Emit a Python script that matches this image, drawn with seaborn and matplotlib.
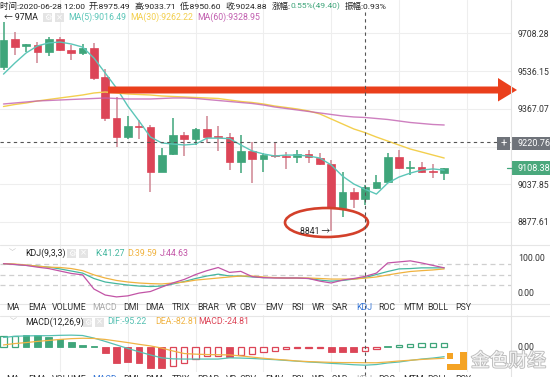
import numpy as np
import pandas as pd
import matplotlib
matplotlib.use("Agg")
import matplotlib.pyplot as plt
import matplotlib.patheffects as pe
import seaborn as sns
from matplotlib.patches import Rectangle, Ellipse, Polygon
from matplotlib.lines import Line2D
from matplotlib.ticker import NullLocator

# ---------------- data ----------------
idx = list(range(40))
opens = [9555, 9683, 9651, 9655, 9623, 9683, 9633, 9619, 9642, 9510,
         9327, 9243, 9291, 9287, 9091, 9169, 9252, 9234, 9278, 9245,
         9243, 9134, 9182, 9147, 9160, 9158, 9156, 9169, 9151, 9125,
         8937, 9005, 8975.49, 9022, 9048, 9156, 9108, 9112, 9092, 9087]
highs = [9761, 9715, 9660, 9669, 9692, 9692, 9655, 9660, 9664, 9546,
         9420, 9336, 9318, 9296, 9195, 9327, 9265, 9283, 9336, 9291,
         9261, 9252, 9221, 9173, 9217, 9177, 9186, 9186, 9173, 9143,
         9091, 9022, 9033.71, 9078, 9173, 9186, 9138, 9134, 9125, 9108.38]
lows = [9542, 9610, 9623, 9573, 9605, 9628, 9587, 9610, 9496, 9313,
        9199, 9234, 9234, 9005, 9089, 9164, 9160, 9208, 9217, 9182,
        9099, 9087, 9043, 9091, 9151, 9104, 9130, 9130, 9121, 8841,
        8899, 8937, 8950.60, 9018, 9043, 9104, 9078, 9087, 9065, 9056]
closes = [9678, 9646, 9658, 9623, 9683, 9633, 9619, 9642, 9505, 9327,
          9243, 9291, 9287, 9091, 9164, 9252, 9234, 9278, 9243, 9241,
          9134, 9182, 9147, 9164, 9158, 9156, 9169, 9156, 9125, 8937,
          9005, 8975.48, 9024.88, 9048, 9156, 9108, 9112, 9091, 9090, 9108.38]

ma5 = [9523, 9573, 9619, 9651, 9665, 9669, 9660, 9646, 9596, 9528,
       9460, 9380, 9313, 9243, 9217, 9212, 9208, 9212, 9238, 9238,
       9236, 9208, 9182, 9169, 9160, 9164, 9164, 9160, 9151, 9121,
       9073, 9039, 9016.49, 8996, 9043, 9069, 9086, 9099, 9104, 9099]
ma30 = [9377.7, 9386.7, 9393.3, 9402.3, 9409.0, 9415.7, 9422.3, 9429.1, 9438.0, 9442.5,
        9438.0, 9433.5, 9431.3, 9429.1, 9424.6, 9422.3, 9420.1, 9417.8, 9415.7, 9413.4,
        9406.7, 9400.0, 9395.5, 9388.9, 9380.0, 9373.4, 9366.7, 9357.8, 9344.5, 9322.4,
        9300.3, 9278.3, 9262.22, 9242.8, 9225.3, 9207.8, 9190.3, 9177.3, 9164.2, 9151.2]
ma60 = [9388.9, 9393.3, 9397.8, 9402.3, 9404.5, 9406.7, 9409.0, 9411.2, 9413.4, 9415.7,
        9413.4, 9411.2, 9411.2, 9411.2, 9413.4, 9415.7, 9415.7, 9413.4, 9409.0, 9404.5,
        9400.0, 9395.5, 9391.1, 9384.4, 9375.5, 9368.9, 9362.2, 9355.6, 9349.0, 9342.3,
        9335.7, 9331.2, 9328.95, 9324.5, 9320.1, 9313.5, 9306.8, 9302.4, 9298.0, 9295.8]

k_vals = [81, 78.6, 76, 74, 71, 66, 60, 54, 38.6, 28.6, 24, 20, 17, 15.7, 17, 23, 30, 38.6, 45.7, 51,
          45.7, 45.7, 43, 41, 41, 40, 40, 38.6, 34, 31, 33, 37, 41.27, 50, 58.6, 66, 67, 69, 69, 69]
d_vals = [81, 80, 77, 74, 71, 70, 67, 61, 49, 40, 33, 28.6, 25.7, 24, 23, 25.7, 28.6, 34, 37, 40,
          43, 45.7, 45.7, 43, 41, 40, 40, 40, 38.6, 37, 37, 37, 39.59, 43, 48.6, 54, 58.6, 61, 63, 66]
j_vals = [81, 78.6, 76, 71, 67, 60, 53, 49, 8.6, -8.6, -14, -11, -3, 1.4, 14, 26, 36, 50, 61, 70,
          56, 59, 44, 41, 40, 40, 40, 38.6, 31, 25.7, 34, 38.6, 44.63, 54, 83, 86, 89, 83, 76, 69]

dif = [46, 52, 54, 55, 55, 57, 58, 56, 43, 26, 8, -10, -27, -43, -58, -63, -64, -64, -64, -64,
       -58, -59, -61, -64, -67, -71, -75, -79, -82, -86, -89, -93, -95.22, -92, -84, -79, -71, -64, -59, -52]
dea = [8, 15, 20, 26, 31, 36, 40, 42, 41, 36, 28, 20, 11, 3, -8, -23, -36, -39, -41, -42,
       -43, -48, -54, -60, -65, -69, -74, -77, -79, -81, -82, -82, -82.81, -83, -79, -74, -70, -66, -63, -60]
macd_hist = [52, 55, 58, 58, 50, 38, 22, 10, 2, -35, -86, -80, -86, -110, -110, -100, -86, -64, -50, -50,
             -52, -42, -36, -30, -25, -12, -8, -6, -6, -26, -30, -30, -24.81, -14, 4, 8, 14, 16, 16, 16]
hist_filled = [0, 0, 1, 1, 1, 1, 1, 1, 1, 1, 1, 1, 1, 1, 1, 0, 0, 0, 0, 0,
               1, 0, 0, 0, 0, 0, 0, 0, 0, 1, 1, 1, 0, 0, 1, 0, 0, 0, 0, 0]

price_ticks = [9708.28, 9536.15, 9367.07, 9200.99, 9037.85, 8877.61]
price_tick_labels = ["9708.28", "9536.15", "9367.07", "9200.99", "9037.85", "8877.61"]
crosshair_price = 9220.76
last_price = 9108.38
low_mark = 8841
tabs = ["MA", "EMA", "VOLUME", "MACD", "DMI", "DMA", "TRIX", "BRAR", "VR", "OBV",
        "EMV", "RSI", "WR", "SAR", "KDJ", "ROC", "MTM", "BOLL", "PSY"]
tab_x = [13, 37, 69, 105, 131, 155, 181, 208, 231, 248, 274, 298, 318, 340, 364, 387, 413, 438, 463]

# ---------------- style ----------------
sns.set_theme(style="white")
plt.rcParams['font.family'] = ['Roboto', 'Noto Sans CJK SC', 'DejaVu Sans']

W, H = 550, 377
fig = plt.figure(figsize=(5.5, 3.77), dpi=100)
fig.patch.set_facecolor('white')
renderer = fig.canvas.get_renderer()

GREEN = '#3fa57a'
RED = '#dc4557'
RED_WICK = '#cf8592'
TEAL = '#5cc6b8'
YEL = '#f3cf4e'
MAG = '#c260b0'
KC, DC, JC = '#45b79f', '#f0b23e', '#c254a6'
DIFC, DEAC = '#55c0b2', '#f0b445'
GRID = '#eeeeee'


def add_ax(x0, y0, x1, y1):
    a = fig.add_axes([x0 / W, 1 - y1 / H, (x1 - x0) / W, (y1 - y0) / H])
    for s in a.spines.values():
        s.set_visible(False)
    a.set_facecolor('none')
    return a


def fx(x):
    return x / W


def fy(y):
    return 1 - y / H


def ftext(x, y, s, **kw):
    kw.setdefault('va', 'center')
    kw.setdefault('ha', 'left')
    kw.setdefault('fontsize', 6.3)
    kw.setdefault('color', '#333333')
    return fig.text(fx(x), fy(y), s, **kw)


def text_run(x, y, pieces, gap=4, **kw):
    """Place text pieces one after another; returns end x in pixels."""
    for s, col, g in pieces:
        t = ftext(x, y, s, color=col, **kw)
        bb = t.get_window_extent(renderer=renderer)
        x = bb.x1 + g
    return x


XL = (-3.5 / 11.3, (511 - 3.5) / 11.3)
vgrid = [5, 11, 17, 23, 29, 35, 41]

# ---------------- main price panel ----------------
ax = add_ax(0, 0, 511, 245)
ax.set_yscale('log')
ax.set_ylim(8781.2, 9863.8)
ax.set_xlim(*XL)
ax.yaxis.set_minor_locator(NullLocator())
for t in price_ticks:
    ax.axhline(t, color=GRID, lw=0.8, zorder=0)
for g in vgrid:
    ax.axvline(g, color=GRID, lw=0.8, zorder=0)

for i in idx:
    o, h, l, c = opens[i], highs[i], lows[i], closes[i]
    up = c >= o
    col = GREEN if up else RED
    wcol = GREEN if up else RED_WICK
    ax.vlines(i, l, h, color=wcol, lw=1.1, zorder=2)
    ax.bar(i, max(abs(c - o), 4.5), bottom=min(o, c), width=0.68,
           color=col, edgecolor=col, lw=0.5, zorder=3)

sns.lineplot(x=idx, y=ma5, ax=ax, color=TEAL, lw=1.0, zorder=4)
sns.lineplot(x=idx, y=ma30, ax=ax, color=YEL, lw=1.0, zorder=4)
sns.lineplot(x=idx, y=ma60, ax=ax, color=MAG, lw=1.0, zorder=4, alpha=0.8)

ax.axhline(crosshair_price, color='#555555', lw=0.8, ls=(0, (3, 3)), zorder=5)
ax.set_xticks([])
ax.set_yticks(price_ticks, labels=price_tick_labels)
ax.yaxis.tick_right()
ax.tick_params(axis='y', length=0, pad=5, labelsize=6.3, labelcolor='#333333')
ax.set_xlabel('')
ax.set_ylabel('')

# ---------------- KDJ panel ----------------
axk = add_ax(0, 245, 511, 303)
axk.set_xlim(*XL)
axk.set_ylim(-31.4, 134.3)
for g in vgrid:
    axk.axvline(g, color=GRID, lw=0.8, zorder=0)
for lv in (80, 50, 20):
    axk.axhline(lv, color='#cfcfcf', lw=0.9, ls=(0, (4, 3)), zorder=1)
sns.lineplot(x=idx, y=k_vals, ax=axk, color=KC, lw=0.9, zorder=3)
sns.lineplot(x=idx, y=d_vals, ax=axk, color=DC, lw=0.9, zorder=3)
sns.lineplot(x=idx, y=j_vals, ax=axk, color=JC, lw=0.9, zorder=3)
axk.set_xticks([])
axk.set_yticks([100, 0], labels=["100.00", "0.00"])
axk.yaxis.tick_right()
axk.tick_params(axis='y', length=0, pad=5, labelsize=6.3, labelcolor='#333333')
axk.set_xlabel('')
axk.set_ylabel('')

# ---------------- MACD panel ----------------
axm = add_ax(0, 315, 511, 372)
axm.set_xlim(*XL)
axm.set_ylim(-130.05, 160.65)
for g in vgrid:
    axm.axvline(g, color=GRID, lw=0.8, zorder=0)
for i in idx:
    v = macd_hist[i]
    col = GREEN if v >= 0 else RED
    if hist_filled[i]:
        axm.bar(i, v, width=0.6, color=col, edgecolor=col, lw=0.6, zorder=2)
    else:
        axm.bar(i, v, width=0.56, facecolor='white', edgecolor=col, lw=0.9, zorder=2)
sns.lineplot(x=idx, y=dif, ax=axm, color=DIFC, lw=0.9, zorder=3)
sns.lineplot(x=idx, y=dea, ax=axm, color=DEAC, lw=0.9, zorder=3)
axm.set_xticks([])
axm.set_yticks([0], labels=["0.00"])
axm.yaxis.tick_right()
axm.tick_params(axis='y', length=0, pad=5, labelsize=6.3, labelcolor='#333333')
axm.set_xlabel('')
axm.set_ylabel('')

# ---------------- separators / crosshair ----------------
for yy in (245.5, 303.5, 315.5):
    fig.add_artist(Line2D([0, 1], [fy(yy), fy(yy)], color='#e6e6e6', lw=0.8))
fig.add_artist(Line2D([fx(511), fx(511)], [0, 1], color='#e3e3e3', lw=0.8))
fig.add_artist(Line2D([fx(365.1), fx(365.1)], [fy(12), 0], color='#555555', lw=0.8, ls=(0, (3, 3))))

# big red arrow
fig.add_artist(Polygon([(fx(108), fy(86.5)), (fx(498), fy(86.5)), (fx(498), fy(78)),
                        (fx(517), fy(90)), (fx(498), fy(101.5)), (fx(498), fy(93.5)),
                        (fx(108), fy(93.5))], closed=True, color='#ea3f1c', lw=0))
# ellipse around the low
fig.add_artist(Ellipse((fx(326.5), fy(222.5)), 83 / W, 29 / H, fill=False,
                       ec='#d3402a', lw=1.9))
ftext(300, 231.5, f"{low_mark} →", fontsize=6.2, color='#222222')

# crosshair price box
fig.add_artist(Rectangle((fx(497), fy(150)), 13 / W, 13.5 / H, color='#6f737a', lw=0))
fig.add_artist(Rectangle((fx(511.5), fy(150)), 38.5 / W, 13.5 / H, color='#6f737a', lw=0))
ftext(503.5, 143.2, "+", ha='center', color='white', fontsize=8)
ftext(517, 143.2, f"{crosshair_price:.2f}", color='white', fontsize=6.5)
# last price box
fig.add_artist(Line2D([fx(507), fx(512)], [fy(168), fy(168)], color=GREEN, lw=0.9))
fig.add_artist(Rectangle((fx(512), fy(175)), 38 / W, 14 / H, color='#4aa87c', lw=0))
ftext(517, 168, f"{last_price:.2f}", color='white', fontsize=6.5)

# ---------------- header text ----------------
DARK = '#222222'
text_run(0, 6, [("时间:2020-06-28 12:00", DARK, 4),
                ("开:8975.49", DARK, 4),
                ("高:9033.71", DARK, 4),
                ("低:8950.60", DARK, 4),
                ("收:9024.88", DARK, 4),
                ("涨幅:", DARK, 0),
                ("0.55%(49.40)", GREEN, 4),
                ("振幅:0.93%", DARK, 4)], fontsize=6.1)

ftext(4, 17.5, "← 97MA", fontsize=6.3, color=DARK)


def icon_pair(x, y):
    for xx, sym in ((x, "⚙"), (x + 12, "×")):
        fig.add_artist(Rectangle((fx(xx), fy(y + 4.5)), 9 / W, 9 / H, color='#e4e4e4', lw=0))
        ftext(xx + 4.5, y, sym, ha='center', fontsize=6, color='white',
              family=['DejaVu Sans'])


icon_pair(43, 17.5)
text_run(68, 17.5, [("MA(5):9016.49", TEAL, 4),
                    ("MA(30):9262.22", YEL, 4),
                    ("MA(60):9328.95", MAG, 4)], fontsize=6.3)

# KDJ header
ftext(12, 253, "﹀", ha='center', color='#bbbbbb', fontsize=5)
ftext(25, 253, "KDJ(9,3,3)", color=DARK)
icon_pair(67, 253)
ftext(95, 253, "K:41.27", color=KC)
ftext(127, 253, "D:39.59", color=DC)
ftext(160, 253, "J:44.63", color=JC)

# MACD header
ftext(13, 322, "﹀", ha='center', color='#bbbbbb', fontsize=5)
ftext(25, 322, "MACD(12,26,9)", color=DARK)
icon_pair(83, 322)
ftext(107, 322, "DIF:-95.22", color=DIFC)
ftext(155, 322, "DEA:-82.81", color=DEAC)
ftext(198, 322, "MACD:-24.81", color=RED)

# indicator tabs
for name, x in zip(tabs, tab_x):
    c1 = '#3a78d6' if name == 'KDJ' else ('#aaaaaa' if name == 'MACD' else '#333333')
    c2 = '#3a78d6' if name == 'MACD' else ('#aaaaaa' if name == 'KDJ' else '#333333')
    ftext(x, 307, name, ha='center', color=c1, fontsize=6.3)
    ftext(x, 379.5, name, ha='center', color=c2, fontsize=6.3)

# watermark
fig.add_artist(Rectangle((fx(447), fy(359)), 6 / W, 6 / H, color='#f4a324', lw=0))
fig.add_artist(Polygon([(fx(460), fy(352)), (fx(467), fy(352)), (fx(467), fy(370)),
                        (fx(447), fy(370)), (fx(447), fy(364)), (fx(460), fy(364))],
                       closed=True, color='#f4a324', lw=0))
ftext(471, 361, "金色财经", fontsize=13.5, color='#f7f7f7', family=['Noto Sans CJK SC'],
      path_effects=[pe.withStroke(linewidth=1.3, foreground='#bcbcbc')])

fig.savefig("out.png", dpi=100, facecolor='white')
